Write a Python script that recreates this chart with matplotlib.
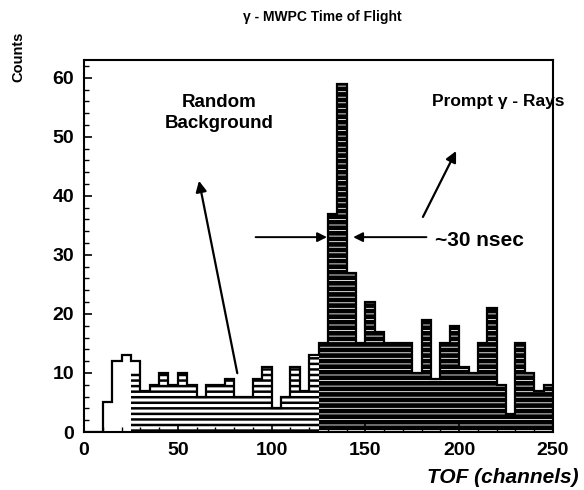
# gamma - MWPC time of flight histogram
import matplotlib
matplotlib.use("Agg")
from matplotlib import pyplot as plt
import numpy as np

plt.rcParams['font.family'] = ['Liberation Sans', 'DejaVu Sans']
plt.rcParams['font.weight'] = 'bold'

# histogram data (bin width 5 channels, 0..250)
bin_width = 5
bin_lo = np.arange(0, 250, bin_width)
total = [0, 0, 5, 12, 13, 12, 7, 8, 10, 8,
         10, 8, 6, 8, 8, 9, 6, 6, 9, 11,
         4, 6, 11, 7, 13, 15, 37, 59, 27, 15,
         22, 17, 15, 15, 15, 10, 19, 9, 15, 18,
         11, 10, 15, 21, 8, 3, 15, 10, 7, 8]
# random background fill (channels 25-125)
random_lo = np.arange(25, 125, bin_width)
random_bg = [10, 7, 8, 10, 8, 10, 8, 6, 8, 8,
             9, 6, 6, 9, 11, 4, 6, 11, 7, 13]
# prompt region fill (channels 125-250)
prompt_lo = np.arange(125, 250, bin_width)
prompt = [15, 37, 59, 27, 15, 22, 17, 15, 15, 15,
          10, 19, 9, 15, 18, 11, 10, 15, 21, 8,
          3, 15, 10, 7, 8]

fig = plt.figure(figsize=(5.84, 4.90), dpi=100)
ax = fig.add_axes([84/584, 1-432/490, 469/584, 372/490])

# light hatch for the background region
b1 = ax.bar(random_lo, random_bg, width=bin_width, align='edge',
            facecolor='white', edgecolor='black', hatch='---', lw=0)
for p in b1:
    if hasattr(p, 'set_hatch_linewidth'):
        p.set_hatch_linewidth(1.8)

# dense fill for the prompt region: black with thin white lines
ax.bar(prompt_lo, prompt, width=bin_width, align='edge', color='black', lw=0)
b2 = ax.bar(prompt_lo, prompt, width=bin_width, align='edge',
            facecolor='none', edgecolor='white', hatch='---', lw=0)
for p in b2:
    if hasattr(p, 'set_hatch_linewidth'):
        p.set_hatch_linewidth(0.6)

# outline of the full spectrum
ax.stairs(total, np.append(bin_lo, 250), color='black', lw=1.6)

ax.set_xlim(0, 250)
ax.set_ylim(0, 63)
ax.set_xticks([0, 50, 100, 150, 200, 250])
ax.set_xticks(np.arange(0, 251, 10), minor=True)
ax.set_yticks(np.arange(0, 61, 10))
ax.set_yticks(np.arange(0, 63, 2), minor=True)
ax.tick_params(direction='in', labelsize=14, width=1.2, length=6, pad=7)
ax.tick_params(which='minor', direction='in', width=1.0, length=3.5)
for s in ax.spines.values():
    s.set_linewidth(1.5)

# labels
fig.text(322/584, 1-17/490, 'γ - MWPC Time of Flight', ha='center', va='center',
         fontsize=10)
fig.text(18/584, 1-57/490, 'Counts', rotation=90, ha='center', va='center',
         fontsize=10.5)
fig.text(579/584, 1-477/490, 'TOF (channels)', ha='right', va='center',
         fontsize=15, style='italic')

# annotations
ax.text(72, 54, 'Random\nBackground', ha='center', va='center', fontsize=13.5,
        linespacing=1.3)
ax.annotate('', xy=(61, 43), xytext=(82, 9.5),
            arrowprops=dict(arrowstyle='-|>', color='black', lw=1.6,
                            mutation_scale=16))
ax.text(221, 56, 'Prompt γ - Rays', ha='center', va='center', fontsize=12.5)
ax.annotate('', xy=(199, 48), xytext=(180, 36),
            arrowprops=dict(arrowstyle='-|>', color='black', lw=1.6,
                            mutation_scale=16))
ax.annotate('', xy=(131, 33), xytext=(90, 33),
            arrowprops=dict(arrowstyle='-|>', color='black', lw=1.4,
                            mutation_scale=14))
ax.annotate('', xy=(142, 33), xytext=(184, 33),
            arrowprops=dict(arrowstyle='-|>', color='black', lw=1.4,
                            mutation_scale=14))
ax.text(187, 32.5, '~30 nsec', ha='left', va='center', fontsize=15)

fig.savefig('out.png', dpi=100)
